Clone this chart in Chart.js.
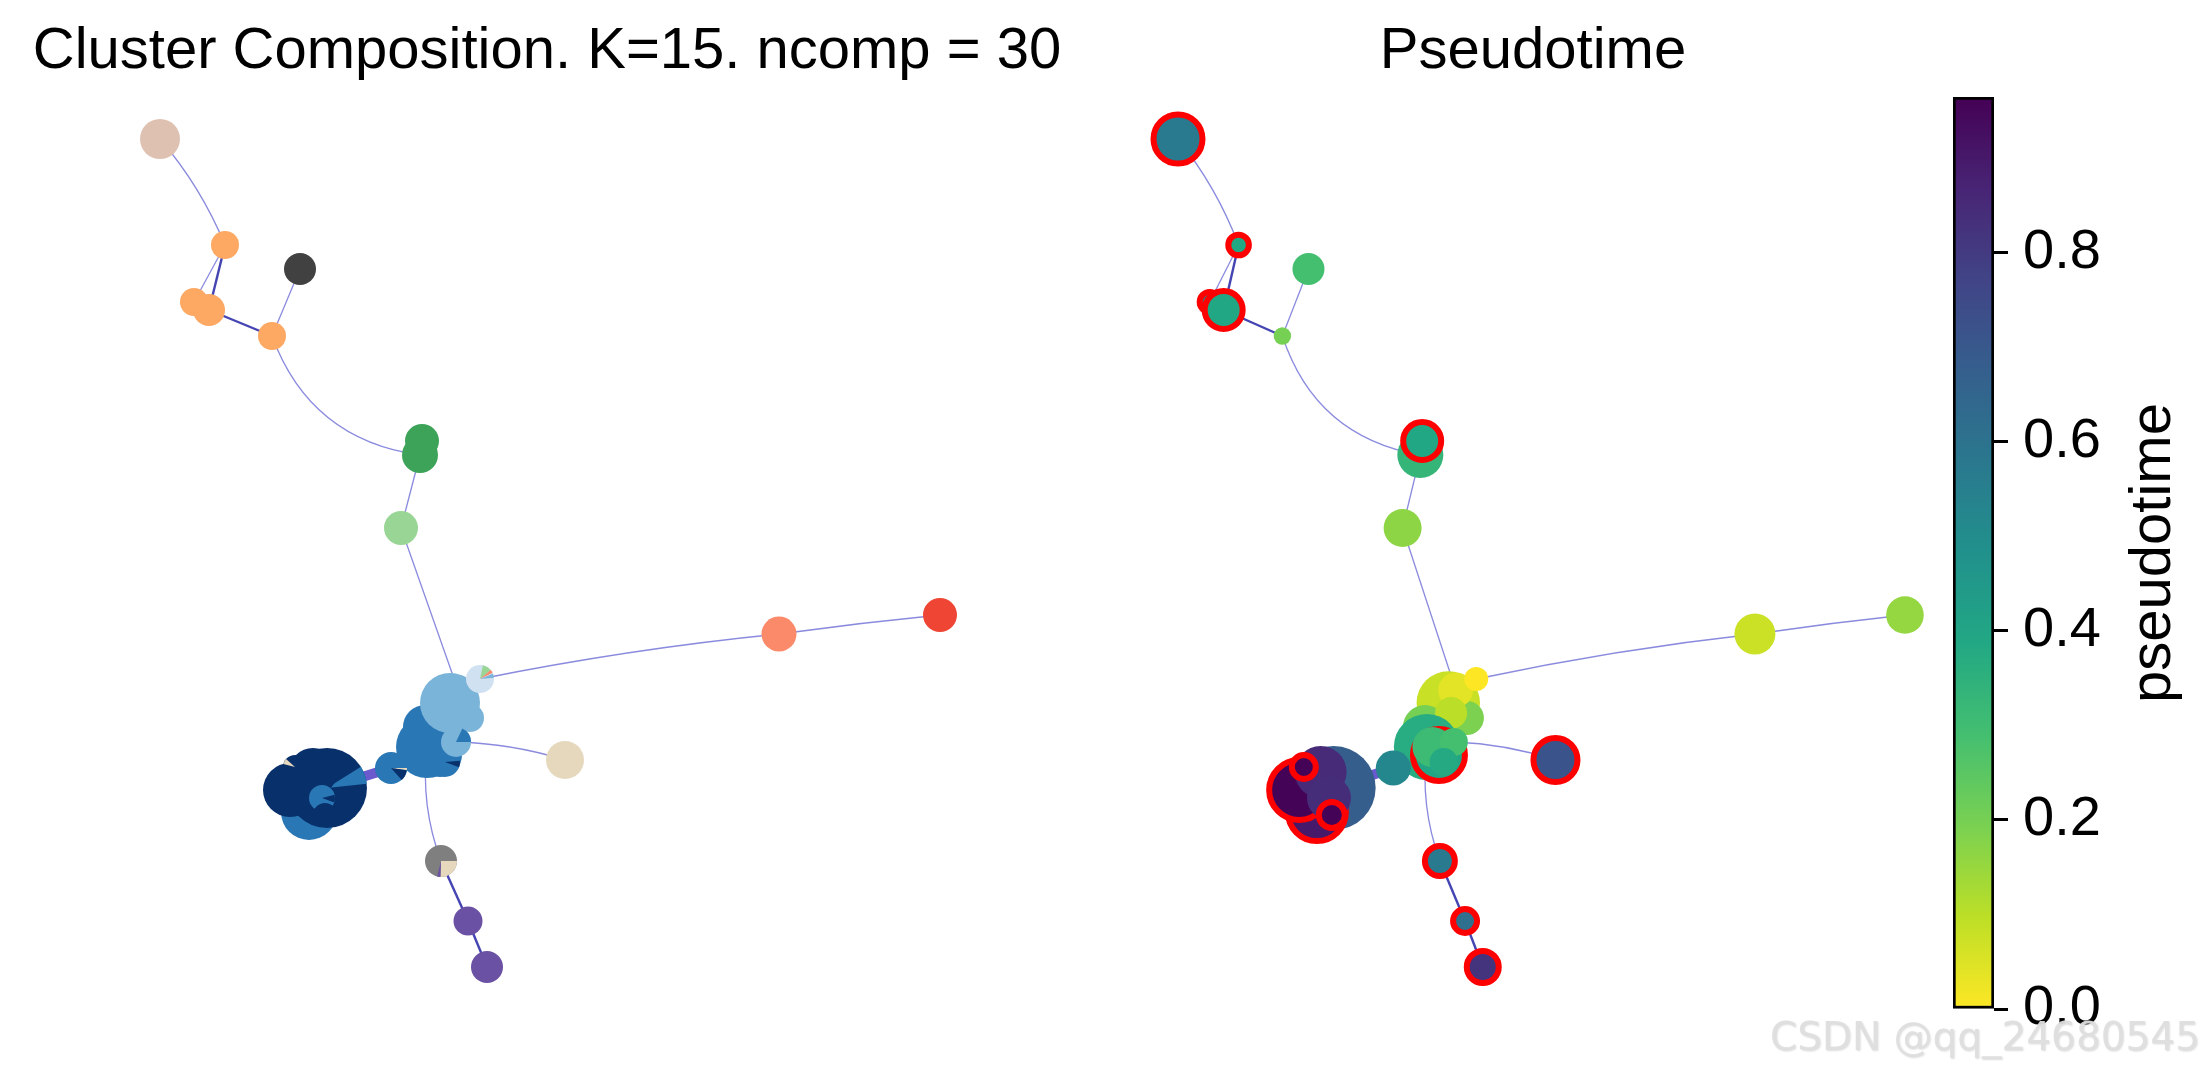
<!DOCTYPE html>
<html>
<head>
<meta charset="utf-8">
<script src="https://cdn.jsdelivr.net/npm/chart.js@4.4.0/dist/chart.umd.min.js"></script>
<style>
  html, body { margin: 0; padding: 0; background: #fff; }
  #page { position: relative; width: 2204px; height: 1072px; overflow: hidden; background: #fff; }
  #page canvas { position: absolute; top: 0; }
</style>
</head>
<body>
<div id="page">
  <canvas id="compChart" width="1094" height="1072" style="left:0px"></canvas>
  <canvas id="ptChart" width="866" height="1072" style="left:1100px"></canvas>
  <canvas id="cbChart" width="504" height="1072" style="left:1700px"></canvas>
</div>
<script>
// graph layout of the cluster nodes (same layout in both panels)
var nodeX = [6.0, 12.5, 20.0, 9.4, 10.9, 17.2, 32.2, 32.0, 30.1, 38.0, 67.9, 84.0, 46.5, 34.1, 36.8, 38.7,
             35.0, 35.8, 37.0, 35.3, 32.5, 32.7, 34.0, 33.3, 35.6, 34.5, 29.1,
             19.0, 21.3, 22.7, 20.9, 22.2, 19.5, 22.5];
var nodeY = [87.1, 76.5, 74.1, 70.8, 70.0, 67.4, 56.9, 55.5, 48.2, 33.1, 37.6, 39.5, 25.0, 14.9, 8.9, 4.3,
             30.7, 32.0, 29.2, 29.7, 28.3, 26.3, 25.5, 26.3, 26.8, 24.8, 24.2,
             22.0, 23.8, 22.2, 19.8, 21.2, 24.3, 19.5];
// majority cluster of each node (index into clusterColors)
var nodeCluster = [0, 1, 2, 1, 1, 1, 3, 3, 4, 5, 9, 10, 11, 12, 13, 13,
                   6, 6, 6, 6, 7, 7, 7, 7, 6, 7, 7,
                   8, 8, 8, 7, 7, 8, 8];
// node radius in the composition panel and in the pseudotime panel
var compSize = [20, 14, 16, 14, 16, 14, 17, 18, 17, 14, 17.5, 17, 19, 16, 14.5, 16,
                30, 15, 14, 14, 22, 31, 22, 20, 15, 15, 16,
                27, 24, 40, 28, 13, 12, 12];
var ptSize = [21.5, 7.3, 16, 7, 16, 8.7, 16, 23, 19, 12, 20.5, 18.8, 19, 12, 9, 13,
              31.7, 17.5, 17, 16, 22, 33, 23, 20, 14, 14, 17.5,
              27, 26, 42, 26, 22, 9, 10];
var isTerminal = [1, 1, 0, 1, 1, 0, 1, 0, 0, 0, 0, 0, 1, 1, 1, 1,
                  0, 0, 0, 0, 0, 0, 1, 0, 0, 0, 0,
                  1, 0, 0, 1, 0, 1, 1];
var pseudotime = [0.57, 0.39, 0.29, 0.50, 0.39, 0.20, 0.39, 0.33, 0.165, 0.0, 0.077, 0.155, 0.714, 0.57, 0.61, 0.82,
                  0.08, 0.04, 0.19, 0.10, 0.20, 0.37, 0.40, 0.31, 0.29, 0.38, 0.52,
                  0.96, 0.85, 0.68, 0.90, 0.84, 0.96, 0.96];

// edges of the cluster graph: kind 0 thin, 1 strong, 2 very strong
var edgeFrom = [0, 1, 1, 3, 4, 2, 5, 7, 8, 9, 10, 24, 21, 13, 14, 29];
var edgeTo   = [1, 4, 3, 4, 5, 5, 7, 8, 17, 10, 11, 12, 13, 14, 15, 26];
var edgeKind = [0, 1, 0, 1, 1, 0, 0, 0, 0, 0, 0, 0, 0, 1, 1, 2];
var edgeBend = [-0.08, 0, 0, 0, 0, 0, 0.30, 0, 0, -0.025, -0.01, -0.07, 0.12, 0, 0, 0];

// minority clusters shown as pie slices (degrees, clockwise from east)
var pieNode    = [9, 9, 9, 13, 13, 32, 29, 31, 26, 26, 24, 25];
var pieCluster = [4, 9, 6, 11, 13, 11, 7, 8, 11, 8, 7, 8];
var pieStart   = [-78, -40, -22, 0, 92, 195, -32, -15, 0, 8, -65, -5];
var pieEnd     = [-40, -26, -5, 92, 104, 222, -6, 20, 8, 48, 0, 20];

var cbTicks = [0, 0.2, 0.4, 0.6, 0.8];
var ptMax = 0.965;

var clusterColors = ['#dfc1b1', '#fda863', '#414141', '#3ca358', '#99d595', '#d0e1f2', '#7bb4d9',
                     '#2a77b5', '#08306b', '#fb8a6b', '#ef4534', '#e6d8bd', '#7f7f7f', '#6b51a3'];
var VIRIDIS = ['#440154', '#482475', '#414487', '#355f8d', '#2a788e', '#21918c',
               '#22a884', '#44bf70', '#7ad151', '#bddf26', '#fde725'];

var FONT = '"Liberation Sans", Arial, Helvetica, sans-serif';
Chart.defaults.font.family = FONT;

var hexRgb = function (h) {
  return [parseInt(h.substr(1, 2), 16), parseInt(h.substr(3, 2), 16), parseInt(h.substr(5, 2), 16)];
};

var viridis = function (t) {
  t = Math.max(0, Math.min(1, t));
  var p = t * 10, i = Math.min(9, Math.floor(p)), f = p - i,
      a = hexRgb(VIRIDIS[i]), b = hexRgb(VIRIDIS[i + 1]);
  return 'rgb(' + [0, 1, 2].map(function (k) { return Math.round(a[k] + (b[k] - a[k]) * f); }).join(',') + ')';
};

var ptColor = function (i) {
  return viridis(1 - pseudotime[i] / ptMax);
};

// nodes with several clusters become little pie images
var pieImage = function (i) {
  var idx = [];
  pieNode.forEach(function (n, k) { if (n === i) idx.push(k); });
  if (!idx.length) return 'circle';
  var r = compSize[i], s = Math.ceil(r) * 2 + 2, c = document.createElement('canvas');
  c.width = s; c.height = s;
  var g = c.getContext('2d'), m = s / 2;
  g.fillStyle = clusterColors[nodeCluster[i]];
  g.beginPath(); g.arc(m, m, r, 0, Math.PI * 2); g.fill();
  idx.forEach(function (k) {
    g.fillStyle = clusterColors[pieCluster[k]];
    g.beginPath();
    g.moveTo(m, m);
    g.arc(m, m, r, pieStart[k] * Math.PI / 180, pieEnd[k] * Math.PI / 180);
    g.closePath();
    g.fill();
  });
  return c;
};

var edgePlugin = {
  id: 'graphEdges',
  beforeDatasetsDraw: function (chart) {
    var xs = chart.scales.x, ys = chart.scales.y, c = chart.ctx;
    var styles = [['rgba(60,60,200,0.6)', 1.3], ['rgba(35,35,165,0.85)', 2.4], ['#6a5acd', 10]];
    c.save();
    edgeFrom.forEach(function (a, i) {
      var b = edgeTo[i],
          x0 = xs.getPixelForValue(nodeX[a]), y0 = ys.getPixelForValue(nodeY[a]),
          x1 = xs.getPixelForValue(nodeX[b]), y1 = ys.getPixelForValue(nodeY[b]),
          dx = x1 - x0, dy = y1 - y0,
          cx = (x0 + x1) / 2 - dy * edgeBend[i],
          cy = (y0 + y1) / 2 + dx * edgeBend[i];
      c.strokeStyle = styles[edgeKind[i]][0];
      c.lineWidth = styles[edgeKind[i]][1];
      c.beginPath();
      c.moveTo(x0, y0);
      c.quadraticCurveTo(cx, cy, x1, y1);
      c.stroke();
    });
    c.restore();
  }
};

var leftOrder = [0, 1, 2, 3, 4, 5, 7, 6, 8, 10, 11, 12, 13, 14, 15,
                 20, 21, 22, 23, 25, 26, 16, 18, 17, 19, 24,
                 30, 27, 29, 28, 31, 32, 33, 9];
var rightOrder = [0, 1, 2, 3, 4, 5, 7, 6, 8, 10, 11, 12, 13, 14, 15,
                  16, 20, 18, 17, 19, 21, 22, 23, 24, 25, 26,
                  29, 30, 27, 28, 31, 32, 33, 9];

// title box is 17 + 69.6 px high, graph unit = 10 px vertically
var yMin = -6.2, yMax = 92.34;

var graphChart = function (id, title, xMin, xMax, dataset) {
  return new Chart(document.getElementById(id), {
    type: 'bubble',
    data: { datasets: [dataset] },
    options: {
      responsive: false,
      animation: false,
      events: [],
      layout: { autoPadding: false, padding: 0 },
      plugins: {
        legend: { display: false },
        tooltip: { enabled: false },
        title: {
          display: true,
          text: title,
          color: '#000',
          font: { size: 58, weight: 'normal', family: FONT },
          padding: { top: 17, bottom: 0 }
        }
      },
      scales: {
        x: { type: 'linear', display: false, min: xMin, max: xMax },
        y: { type: 'linear', display: false, min: yMin, max: yMax }
      }
    },
    plugins: [edgePlugin]
  });
};

graphChart('compChart', 'Cluster Composition. K=15. ncomp = 30', -10, 99.4, {
  data: leftOrder.map(function (i) { return { x: nodeX[i], y: nodeY[i], r: compSize[i] }; }),
  backgroundColor: leftOrder.map(function (i) { return clusterColors[nodeCluster[i]]; }),
  pointStyle: leftOrder.map(pieImage),
  borderWidth: 0
});

graphChart('ptChart', 'Pseudotime', -2.369, 90.549, {
  data: rightOrder.map(function (i) {
    return { x: nodeX[i], y: nodeY[i], r: ptSize[i] + (isTerminal[i] ? 3 : 0) };
  }),
  backgroundColor: rightOrder.map(ptColor),
  borderColor: '#ff0000',
  borderWidth: rightOrder.map(function (i) { return isTerminal[i] ? 6 : 0; })
});

/// COLORBAR ///

var cbExtras = {
  id: 'cbExtras',
  afterDraw: function (chart) {
    var c = chart.ctx, a = chart.chartArea;
    c.save();
    c.translate(a.right + 176, (a.top + a.bottom) / 2);
    c.rotate(-Math.PI / 2);
    c.font = '58px ' + FONT;
    c.fillStyle = '#000';
    c.textAlign = 'center';
    c.textBaseline = 'alphabetic';
    c.fillText('pseudotime', 0, 0);
    c.restore();

    c.save();
    c.font = '39px "DejaVu Sans", sans-serif';
    c.textAlign = 'right';
    c.textBaseline = 'alphabetic';
    c.shadowColor = 'rgba(0,0,0,0.15)';
    c.shadowOffsetX = 1;
    c.shadowOffsetY = 1;
    c.shadowBlur = 2;
    c.fillStyle = 'rgba(222,222,222,0.95)';
    c.fillText('CSDN @qq_24680545', chart.width - 4, 1050);
    c.restore();
  }
};

new Chart(document.getElementById('cbChart'), {
  type: 'bar',
  data: {
    labels: [''],
    datasets: [{
      data: [ptMax],
      backgroundColor: function (ctx) {
        var a = ctx.chart.chartArea;
        if (!a) return '#fde725';
        var g = ctx.chart.ctx.createLinearGradient(0, a.bottom, 0, a.top);
        VIRIDIS.forEach(function (col, k) { g.addColorStop(k / 10, VIRIDIS[10 - k]); });
        return g;
      },
      borderColor: '#000',
      borderWidth: 3,
      borderSkipped: false,
      barPercentage: 1,
      categoryPercentage: 1
    }]
  },
  options: {
    responsive: false,
    animation: false,
    events: [],
    layout: { autoPadding: false, padding: { left: 253, top: 97, bottom: 63, right: 100 } },
    plugins: { legend: { display: false }, tooltip: { enabled: false } },
    scales: {
      x: { display: false },
      y: {
        position: 'right',
        min: 0,
        max: ptMax,
        afterFit: function (s) { s.width = 110; },
        afterBuildTicks: function (s) { s.ticks = cbTicks.map(function (v) { return { value: v }; }); },
        ticks: {
          color: '#000',
          font: { size: 56 },
          padding: 15,
          callback: function (v) { return Number(v).toFixed(1); }
        },
        grid: { drawOnChartArea: false, drawTicks: true, tickLength: 14, tickWidth: 3, tickColor: '#000' },
        border: { display: false }
      }
    }
  },
  plugins: [cbExtras]
});
</script>
</body>
</html>
